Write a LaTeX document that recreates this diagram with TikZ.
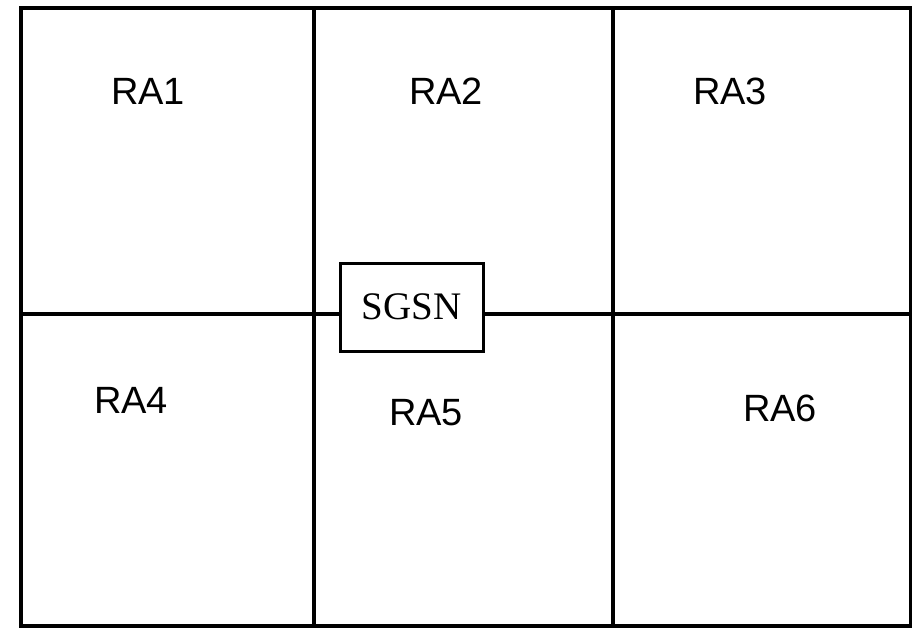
\documentclass[tikz,border=0pt]{standalone}
\usepackage{fontspec}
\setmainfont{Liberation Sans}
\newfontfamily\timesfont{Liberation Serif}
\usetikzlibrary{positioning}

\begin{document}
\begin{tikzpicture}[x=1pt,y=-1pt,line width=3.2pt,
  ralabel/.style={font=\fontsize{38}{40}\selectfont,inner sep=0pt},
  sgsnbox/.style={draw,fill=white,line width=3pt,minimum width=143pt,minimum height=88pt,inner sep=0pt,font=\timesfont\fontsize{39}{40}\selectfont}]
\useasboundingbox (0,0) rectangle (912,628);
% outer frame and grid of routing areas
\draw (21,8) rectangle (910.5,626);
\draw (314,8) -- (314,626);
\draw (613,8) -- (613,626);
\draw (21,314) -- (910.5,314);
% area labels
\node[ralabel] (ra1) at (148,91) {RA1};
\node[ralabel] (ra2) at (446,91) {RA2};
\node[ralabel] (ra3) at (730,91) {RA3};
\node[ralabel] (ra4) at (131,400) {RA4};
\node[ralabel] (ra5) at (426,413) {RA5};
\node[ralabel] (ra6) at (780,408) {RA6};
% SGSN sits on the border between RA2 and RA5
\node[sgsnbox] (sgsn) at (411.5,307) {SGSN};
\end{tikzpicture}
\end{document}
